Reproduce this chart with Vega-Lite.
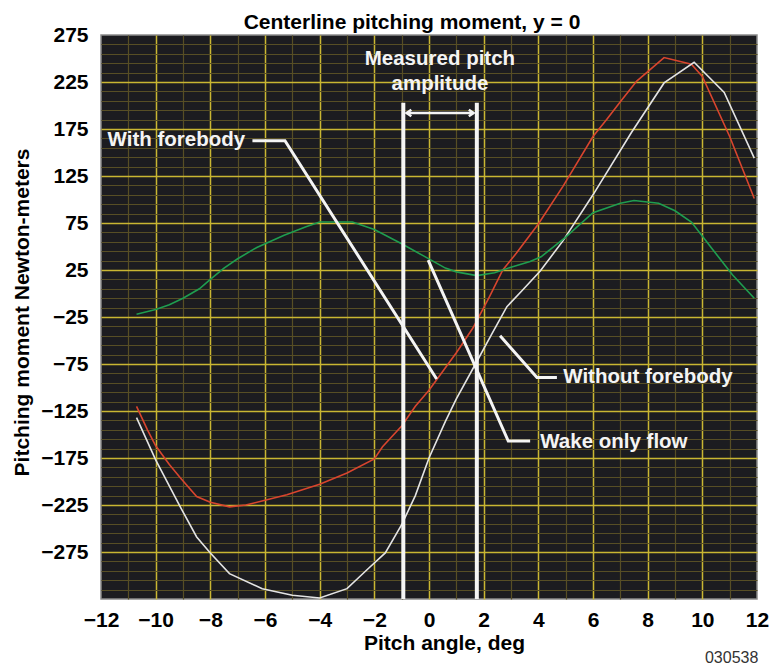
{
  "$schema": "https://vega.github.io/schema/vega-lite/v6.json",
  "width": 656,
  "height": 564,
  "autosize": {"type": "none"},
  "padding": {"left": 101, "top": 35, "right": 13, "bottom": 71},
  "background": "white",
  "config": {
    "font": "Liberation Sans",
    "view": {"fill": "#1c1c20", "stroke": "#8a8a8a", "strokeWidth": 1.5}
  },
  "title": {
    "text": "Centerline pitching moment, y = 0",
    "fontSize": 21,
    "fontWeight": "bold",
    "color": "black",
    "font": "Liberation Sans",
    "dx": -17,
    "dy": 17,
    "offset": 8
  },
  "datasets": {
    "curves": [
      {"series": "With forebody", "x": -10.7, "y": -120},
      {"series": "With forebody", "x": -10.3, "y": -145},
      {"series": "With forebody", "x": -10.0, "y": -162},
      {"series": "With forebody", "x": -9.5, "y": -182},
      {"series": "With forebody", "x": -9.1, "y": -196},
      {"series": "With forebody", "x": -8.5, "y": -216},
      {"series": "With forebody", "x": -8.0, "y": -222},
      {"series": "With forebody", "x": -7.3, "y": -227},
      {"series": "With forebody", "x": -6.7, "y": -225},
      {"series": "With forebody", "x": -6.0, "y": -220},
      {"series": "With forebody", "x": -5.2, "y": -214},
      {"series": "With forebody", "x": -4.0, "y": -203},
      {"series": "With forebody", "x": -3.0, "y": -191},
      {"series": "With forebody", "x": -2.0, "y": -176},
      {"series": "With forebody", "x": -1.7, "y": -163},
      {"series": "With forebody", "x": -1.0, "y": -141},
      {"series": "With forebody", "x": -0.5, "y": -120},
      {"series": "With forebody", "x": 0.0, "y": -103},
      {"series": "With forebody", "x": 0.3, "y": -91},
      {"series": "With forebody", "x": 1.0, "y": -63},
      {"series": "With forebody", "x": 1.6, "y": -37},
      {"series": "With forebody", "x": 2.2, "y": -4},
      {"series": "With forebody", "x": 2.7, "y": 25},
      {"series": "With forebody", "x": 3.2, "y": 43},
      {"series": "With forebody", "x": 4.0, "y": 74},
      {"series": "With forebody", "x": 4.9, "y": 114},
      {"series": "With forebody", "x": 6.0, "y": 167},
      {"series": "With forebody", "x": 6.5, "y": 185},
      {"series": "With forebody", "x": 7.0, "y": 204},
      {"series": "With forebody", "x": 7.6, "y": 226},
      {"series": "With forebody", "x": 8.6, "y": 251},
      {"series": "With forebody", "x": 9.6, "y": 244},
      {"series": "With forebody", "x": 10.0, "y": 231},
      {"series": "With forebody", "x": 11.0, "y": 167},
      {"series": "With forebody", "x": 11.9, "y": 101},
      {"series": "Without forebody", "x": -10.7, "y": -132},
      {"series": "Without forebody", "x": -10.0, "y": -177},
      {"series": "Without forebody", "x": -9.1, "y": -227},
      {"series": "Without forebody", "x": -8.5, "y": -259},
      {"series": "Without forebody", "x": -8.0, "y": -276},
      {"series": "Without forebody", "x": -7.3, "y": -298},
      {"series": "Without forebody", "x": -6.1, "y": -314},
      {"series": "Without forebody", "x": -5.0, "y": -321},
      {"series": "Without forebody", "x": -4.0, "y": -324},
      {"series": "Without forebody", "x": -3.0, "y": -314},
      {"series": "Without forebody", "x": -2.2, "y": -292},
      {"series": "Without forebody", "x": -1.6, "y": -276},
      {"series": "Without forebody", "x": -1.0, "y": -246},
      {"series": "Without forebody", "x": -0.5, "y": -215},
      {"series": "Without forebody", "x": 0.0, "y": -175},
      {"series": "Without forebody", "x": 0.6, "y": -136},
      {"series": "Without forebody", "x": 1.0, "y": -112},
      {"series": "Without forebody", "x": 1.7, "y": -75},
      {"series": "Without forebody", "x": 2.3, "y": -43},
      {"series": "Without forebody", "x": 2.85, "y": -14},
      {"series": "Without forebody", "x": 3.4, "y": 3},
      {"series": "Without forebody", "x": 4.07, "y": 24},
      {"series": "Without forebody", "x": 4.9, "y": 56},
      {"series": "Without forebody", "x": 6.0, "y": 105},
      {"series": "Without forebody", "x": 7.4, "y": 171},
      {"series": "Without forebody", "x": 8.6, "y": 224},
      {"series": "Without forebody", "x": 9.7, "y": 246},
      {"series": "Without forebody", "x": 10.8, "y": 214},
      {"series": "Without forebody", "x": 11.9, "y": 144},
      {"series": "Wake only flow", "x": -10.7, "y": -22},
      {"series": "Wake only flow", "x": -10.0, "y": -17},
      {"series": "Wake only flow", "x": -9.5, "y": -12},
      {"series": "Wake only flow", "x": -9.0, "y": -5},
      {"series": "Wake only flow", "x": -8.4, "y": 5},
      {"series": "Wake only flow", "x": -8.0, "y": 15},
      {"series": "Wake only flow", "x": -7.5, "y": 27},
      {"series": "Wake only flow", "x": -7.0, "y": 37},
      {"series": "Wake only flow", "x": -6.3, "y": 49},
      {"series": "Wake only flow", "x": -5.3, "y": 62},
      {"series": "Wake only flow", "x": -4.5, "y": 71},
      {"series": "Wake only flow", "x": -4.0, "y": 76},
      {"series": "Wake only flow", "x": -2.8, "y": 76},
      {"series": "Wake only flow", "x": -2.0, "y": 68},
      {"series": "Wake only flow", "x": -1.0, "y": 53},
      {"series": "Wake only flow", "x": -0.2, "y": 40},
      {"series": "Wake only flow", "x": 0.6, "y": 27},
      {"series": "Wake only flow", "x": 1.0, "y": 23},
      {"series": "Wake only flow", "x": 1.75, "y": 19},
      {"series": "Wake only flow", "x": 2.4, "y": 22},
      {"series": "Wake only flow", "x": 3.0, "y": 28},
      {"series": "Wake only flow", "x": 3.7, "y": 34},
      {"series": "Wake only flow", "x": 4.1, "y": 39},
      {"series": "Wake only flow", "x": 5.0, "y": 60},
      {"series": "Wake only flow", "x": 6.0, "y": 86},
      {"series": "Wake only flow", "x": 7.0, "y": 96},
      {"series": "Wake only flow", "x": 7.5, "y": 99},
      {"series": "Wake only flow", "x": 8.4, "y": 96},
      {"series": "Wake only flow", "x": 9.0, "y": 88},
      {"series": "Wake only flow", "x": 9.6, "y": 76},
      {"series": "Wake only flow", "x": 10.4, "y": 46},
      {"series": "Wake only flow", "x": 11.1, "y": 20},
      {"series": "Wake only flow", "x": 11.9, "y": -5}
    ],
    "leaders": [
      {"id": "with", "o": 1, "x": -6.46, "y": 162.6},
      {"id": "with", "o": 2, "x": -5.27, "y": 162.6},
      {"id": "with", "o": 3, "x": 0.28, "y": -91},
      {"id": "without", "o": 1, "x": 2.6, "y": -45},
      {"id": "without", "o": 2, "x": 3.95, "y": -89.3},
      {"id": "without", "o": 3, "x": 4.68, "y": -89.3},
      {"id": "wake", "o": 1, "x": -0.03, "y": 35.4},
      {"id": "wake", "o": 2, "x": 2.9, "y": -157},
      {"id": "wake", "o": 3, "x": 3.7, "y": -157}
    ],
    "vlines": [
      {"x": -0.94, "y": 203, "y2": -325},
      {"x": 1.75, "y": 203, "y2": -325}
    ],
    "arrow": [
      {"x": -0.82, "x2": 1.63, "y": 192}
    ],
    "heads": [
      {"dir": "left", "x": -0.82, "y": 192},
      {"dir": "right", "x": 1.63, "y": 192}
    ],
    "leftText": [
      {"t": "With forebody", "x": -11.76, "y": 163},
      {"t": "Without forebody", "x": 4.91, "y": -89.3},
      {"t": "Wake only flow", "x": 4.07, "y": -158}
    ],
    "centerText": [
      {"t": "Measured pitch", "x": 0.4, "y": 249},
      {"t": "amplitude", "x": 0.4, "y": 223}
    ],
    "caption": [
      {"t": "030538", "x": 12.05, "y": -388}
    ]
  },
  "encoding": {
    "x": {
      "field": "x",
      "type": "quantitative",
      "scale": {"domain": [-12, 12], "nice": false, "zero": false},
      "axis": {
        "title": "Pitch angle, deg",
        "values": [-12,-11.5,-11,-10.5,-10,-9.5,-9,-8.5,-8,-7.5,-7,-6.5,-6,-5.5,-5,-4.5,-4,-3.5,-3,-2.5,-2,-1.5,-1,-0.5,0,0.5,1,1.5,2,2.5,3,3.5,4,4.5,5,5.5,6,6.5,7,7.5,8,8.5,9,9.5,10,10.5,11,11.5,12],
        "format": "d",
        "grid": true,
        "gridColor": {"condition": {"test": "datum.value % 2 === 0", "value": "#c9b632"}, "value": "#574e25"},
        "gridWidth": {"condition": {"test": "datum.value % 2 === 0", "value": 1.5}, "value": 1.2},
        "gridOpacity": {"condition": {"test": "abs(datum.value) === 12", "value": 0}, "value": 1},
        "labelExpr": "datum.value % 2 === 0 ? datum.label : ''",
        "labelOverlap": false,
        "labelFlush": false,
        "ticks": false,
        "tickSize": 0,
        "domain": false,
        "labelFont": "Liberation Sans",
        "labelFontSize": 21,
        "labelFontWeight": "bold",
        "labelColor": "black",
        "labelPadding": 10,
        "titleFont": "Liberation Sans",
        "titleFontSize": 21,
        "titleFontWeight": "bold",
        "titleColor": "black",
        "titleX": 343,
        "titleY": 44,
        "titleBaseline": "middle"
      }
    },
    "y": {
      "field": "y",
      "type": "quantitative",
      "scale": {"domain": [-325, 275], "nice": false, "zero": false},
      "axis": {
        "title": "Pitching moment Newton-meters",
        "values": [275,265,255,245,235,225,215,205,195,185,175,165,155,145,135,125,115,105,95,85,75,65,55,45,35,25,15,5,-5,-15,-25,-35,-45,-55,-65,-75,-85,-95,-105,-115,-125,-135,-145,-155,-165,-175,-185,-195,-205,-215,-225,-235,-245,-255,-265,-275,-285,-295,-305,-315,-325],
        "format": "d",
        "grid": true,
        "gridColor": {"condition": {"test": "(275 - datum.value) % 50 === 0", "value": "#c9b632"}, "value": "#574e25"},
        "gridWidth": {"condition": {"test": "(275 - datum.value) % 50 === 0", "value": 1.5}, "value": 1.2},
        "gridOpacity": {"condition": {"test": "datum.value === 275 || datum.value === -325", "value": 0}, "value": 1},
        "labelExpr": "(275 - datum.value) % 50 === 0 && datum.value > -300 ? datum.label : ''",
        "labelOverlap": false,
        "labelFlush": false,
        "ticks": false,
        "tickSize": 0,
        "domain": false,
        "labelFont": "Liberation Sans",
        "labelFontSize": 21,
        "labelFontWeight": "bold",
        "labelColor": "black",
        "labelPadding": 13,
        "titleFont": "Liberation Sans",
        "titleFontSize": 21,
        "titleFontWeight": "bold",
        "titleColor": "black",
        "titleX": -79,
        "titleY": 277,
        "titleAngle": -90,
        "titleBaseline": "middle"
      }
    }
  },
  "layer": [
    {
      "data": {"name": "curves"},
      "mark": {"type": "line", "strokeWidth": 1.6},
      "encoding": {
        "color": {
          "field": "series",
          "type": "nominal",
          "scale": {"domain": ["With forebody", "Without forebody", "Wake only flow"], "range": ["#d9452e", "#e4e4e4", "#1f9e50"]},
          "legend": null
        }
      }
    },
    {
      "data": {"name": "vlines"},
      "mark": {"type": "rule", "color": "#f4f4f4", "strokeWidth": 4},
      "encoding": {"y2": {"field": "y2"}}
    },
    {
      "data": {"name": "leaders"},
      "mark": {"type": "line", "color": "#f4f4f4", "strokeWidth": 3},
      "encoding": {
        "detail": {"field": "id", "type": "nominal"},
        "order": {"field": "o", "type": "quantitative"}
      }
    },
    {
      "data": {"name": "arrow"},
      "mark": {"type": "rule", "color": "#f4f4f4", "strokeWidth": 2.5},
      "encoding": {"x2": {"field": "x2"}}
    },
    {
      "data": {"name": "heads"},
      "mark": {"type": "point", "filled": false, "stroke": "#f4f4f4", "strokeWidth": 2.5, "size": 90, "opacity": 1},
      "encoding": {
        "shape": {
          "field": "dir",
          "type": "nominal",
          "scale": {"domain": ["left", "right"], "range": ["M1,-0.7L0,0L1,0.7", "M-1,-0.7L0,0L-1,0.7"]},
          "legend": null
        }
      }
    },
    {
      "data": {"name": "leftText"},
      "mark": {"type": "text", "align": "left", "baseline": "middle", "font": "Liberation Sans", "fontSize": 20.5, "fontWeight": "bold", "color": "#f4f4f4"},
      "encoding": {"text": {"field": "t", "type": "nominal"}}
    },
    {
      "data": {"name": "centerText"},
      "mark": {"type": "text", "align": "center", "baseline": "middle", "font": "Liberation Sans", "fontSize": 20.5, "fontWeight": "bold", "color": "#f4f4f4"},
      "encoding": {"text": {"field": "t", "type": "nominal"}}
    },
    {
      "data": {"name": "caption"},
      "mark": {"type": "text", "align": "right", "baseline": "middle", "font": "Liberation Sans", "fontSize": 16, "color": "#333333"},
      "encoding": {"text": {"field": "t", "type": "nominal"}}
    }
  ]
}
